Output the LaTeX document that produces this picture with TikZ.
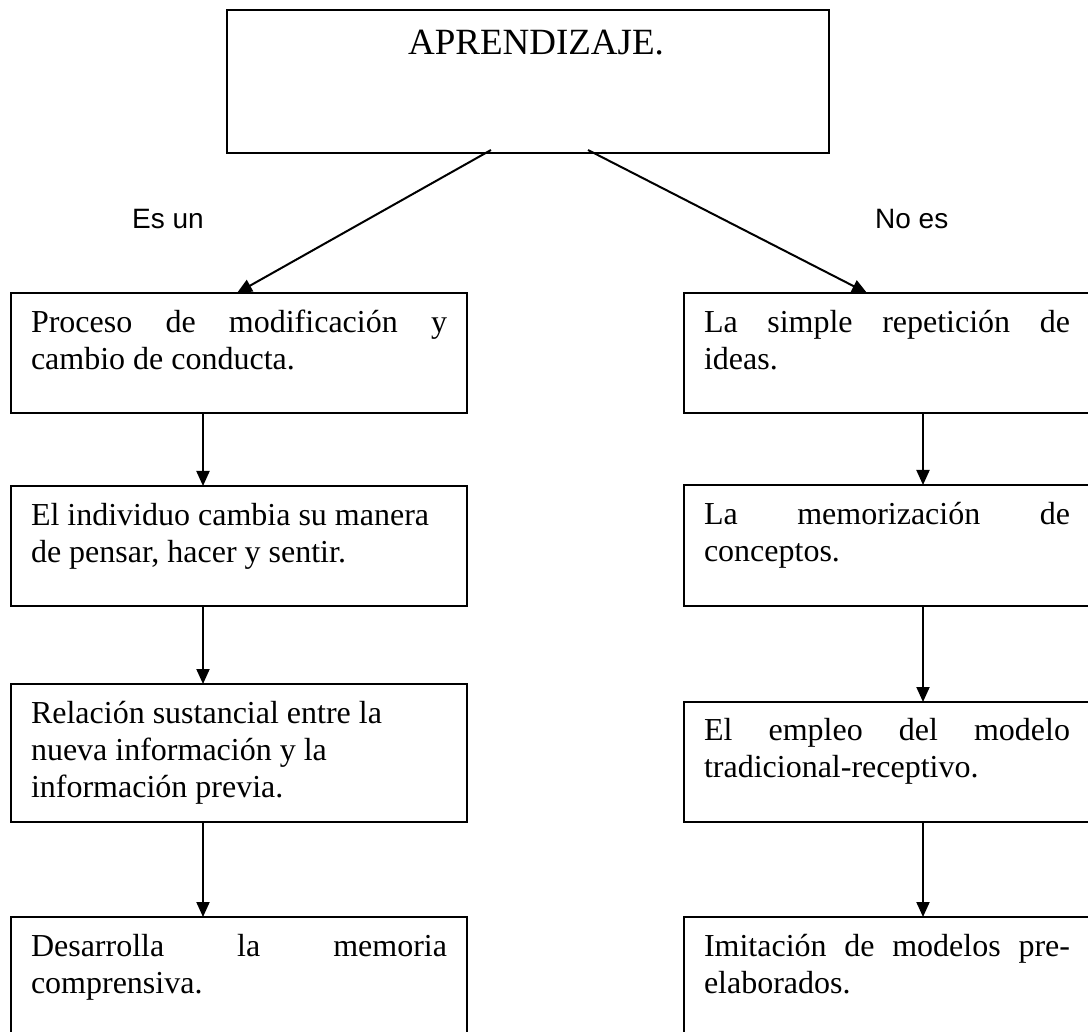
\documentclass[tikz,border=0pt]{standalone}
\usepackage{fontspec}
\setmainfont{Liberation Serif}
\newfontfamily\arialfont{Liberation Sans}
\usetikzlibrary{arrows.meta}
\newcommand{\jl}[1]{\makebox[\linewidth][s]{#1}}
\newcommand{\firstline}{\rule{0pt}{39.5pt}}
\begin{document}
\begin{tikzpicture}[x=1pt,y=-1pt,
  boxtext/.style={draw, line width=1.9pt, anchor=north west, inner xsep=20pt, inner ysep=0pt, outer sep=0pt,
    font=\fontsize{32}{37}\selectfont, align=left},
  arr/.style={line width=2pt, -{Triangle[length=15pt,width=13pt]}},
  lbl/.style={anchor=base west, inner sep=0pt, font=\arialfont\fontsize{28}{32}\selectfont}]
\useasboundingbox (0,0) rectangle (1088,1032);

% top box
\node[draw, line width=1.9pt, anchor=north west, minimum width=602pt, minimum height=143pt, inner sep=0pt, outer sep=0pt] (top) at (227,10) {};
\node[anchor=base, inner sep=0pt, font=\fontsize{37}{42}\selectfont] (title) at (536,55) {APRENDIZAJE.};

% labels
\node[lbl] (esun) at (132,229) {Es un};
\node[lbl] (noes) at (875,229) {No es};

% left column
\node[boxtext] (l1) at (11,293) {\parbox[t][120pt][t]{416pt}{\raggedright\firstline\jl{Proceso de modificación y}\\cambio de conducta.}};
\node[boxtext] (l2) at (11,486) {\parbox[t][120pt][t]{416pt}{\raggedright\firstline El individuo cambia su manera\\de pensar, hacer y sentir.}};
\node[boxtext] (l3) at (11,684) {\parbox[t][138pt][t]{416pt}{\raggedright\firstline Relación sustancial entre la\\nueva información y la\\información previa.}};
\node[boxtext] (l4) at (11,917) {\parbox[t][130pt][t]{416pt}{\raggedright\firstline\jl{Desarrolla la memoria}\\comprensiva.}};

% right column
\node[boxtext] (r1) at (684,293) {\parbox[t][120pt][t]{366pt}{\raggedright\firstline\jl{La simple repetición de}\\ideas.}};
\node[boxtext] (r2) at (684,485) {\parbox[t][121pt][t]{366pt}{\raggedright\firstline\jl{La memorización de}\\conceptos.}};
\node[boxtext] (r3) at (684,702) {\parbox[t][120pt][t]{366pt}{\raggedright\rule{0pt}{38.5pt}\jl{El empleo del modelo}\\tradicional-receptivo.}};
\node[boxtext] (r4) at (684,917) {\parbox[t][130pt][t]{366pt}{\raggedright\firstline\jl{Imitación de modelos pre-}\\elaborados.}};

% helper coordinates
\coordinate (lx) at (203,0);
\coordinate (rx) at (923,0);
\coordinate (ltip) at (237,0);
\coordinate (rtip) at (867,0);
\coordinate (d1) at (491,150);
\coordinate (d2) at (588,150);

% connectors
\draw[arr] (d1) -- (l1.north -| ltip);
\draw[arr] (d2) -- (r1.north -| rtip);
\draw[arr] (l1.south -| lx) -- (l2.north -| lx);
\draw[arr] (l2.south -| lx) -- (l3.north -| lx);
\draw[arr] (l3.south -| lx) -- (l4.north -| lx);
\draw[arr] (r1.south -| rx) -- (r2.north -| rx);
\draw[arr] (r2.south -| rx) -- (r3.north -| rx);
\draw[arr] (r3.south -| rx) -- (r4.north -| rx);
\end{tikzpicture}
\end{document}
